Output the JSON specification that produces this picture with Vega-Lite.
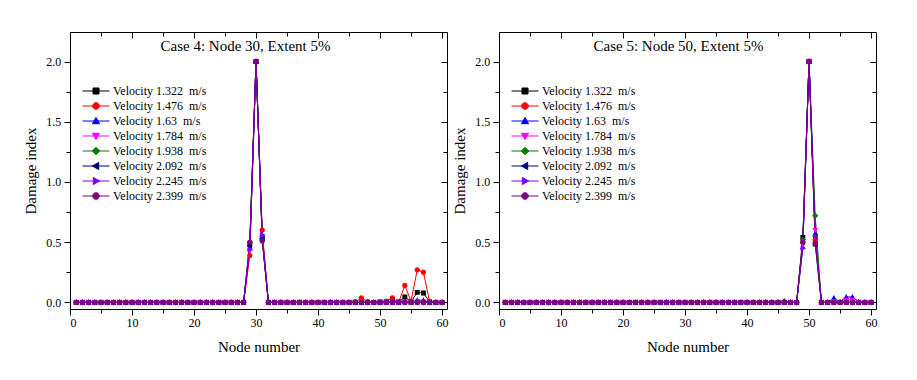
{
  "$schema": "https://vega.github.io/schema/vega-lite/v6.json",
  "background": "white",
  "padding": {"left": 23, "top": 31, "right": 5, "bottom": 5},
  "spacing": 52,
  "bounds": "flush",
  "config": {
    "view": {"stroke": null},
    "font": "Liberation Serif",
    "style": {"guide-label": {"font": "Liberation Serif"}, "guide-title": {"font": "Liberation Serif"}, "group-title": {"font": "Liberation Serif"}},
    "axis": {"labelFont": "Liberation Serif", "titleFont": "Liberation Serif"},
    "legend": {"labelFont": "Liberation Serif"},
    "title": {"font": "Liberation Serif", "fontSize": 15, "fontWeight": "normal", "color": "black"}
  },
  "resolve": {"legend": {"color": "independent", "shape": "independent"}},
  "hconcat": [
    {
      "width": 377, "height": 277,
      "title": {"text": "Case 4: Node 30, Extent 5%", "anchor": "middle", "frame": "group", "offset": -34, "baseline": "alphabetic", "dx": -13},
      "data": {"values": [
        {"node":1,"s1":0,"s2":0,"s3":0,"s4":0,"s5":0,"s6":0,"s7":0,"s8":0},
        {"node":2,"s1":0,"s2":0,"s3":0,"s4":0,"s5":0,"s6":0,"s7":0,"s8":0},
        {"node":3,"s1":0,"s2":0,"s3":0,"s4":0,"s5":0,"s6":0,"s7":0,"s8":0},
        {"node":4,"s1":0,"s2":0,"s3":0,"s4":0,"s5":0,"s6":0,"s7":0,"s8":0},
        {"node":5,"s1":0,"s2":0,"s3":0,"s4":0,"s5":0,"s6":0,"s7":0,"s8":0},
        {"node":6,"s1":0,"s2":0,"s3":0,"s4":0,"s5":0,"s6":0,"s7":0,"s8":0},
        {"node":7,"s1":0,"s2":0,"s3":0,"s4":0,"s5":0,"s6":0,"s7":0,"s8":0},
        {"node":8,"s1":0,"s2":0,"s3":0,"s4":0,"s5":0,"s6":0,"s7":0,"s8":0},
        {"node":9,"s1":0,"s2":0,"s3":0,"s4":0,"s5":0,"s6":0,"s7":0,"s8":0},
        {"node":10,"s1":0,"s2":0,"s3":0,"s4":0,"s5":0,"s6":0,"s7":0,"s8":0},
        {"node":11,"s1":0,"s2":0,"s3":0,"s4":0,"s5":0,"s6":0,"s7":0,"s8":0},
        {"node":12,"s1":0,"s2":0,"s3":0,"s4":0,"s5":0,"s6":0,"s7":0,"s8":0},
        {"node":13,"s1":0,"s2":0,"s3":0,"s4":0,"s5":0,"s6":0,"s7":0,"s8":0},
        {"node":14,"s1":0,"s2":0,"s3":0,"s4":0,"s5":0,"s6":0,"s7":0,"s8":0},
        {"node":15,"s1":0,"s2":0,"s3":0,"s4":0,"s5":0,"s6":0,"s7":0,"s8":0},
        {"node":16,"s1":0,"s2":0,"s3":0,"s4":0,"s5":0,"s6":0,"s7":0,"s8":0},
        {"node":17,"s1":0,"s2":0,"s3":0,"s4":0,"s5":0,"s6":0,"s7":0,"s8":0},
        {"node":18,"s1":0,"s2":0,"s3":0,"s4":0,"s5":0,"s6":0,"s7":0,"s8":0},
        {"node":19,"s1":0,"s2":0,"s3":0,"s4":0,"s5":0,"s6":0,"s7":0,"s8":0},
        {"node":20,"s1":0,"s2":0,"s3":0,"s4":0,"s5":0,"s6":0,"s7":0,"s8":0},
        {"node":21,"s1":0,"s2":0,"s3":0,"s4":0,"s5":0,"s6":0,"s7":0,"s8":0},
        {"node":22,"s1":0,"s2":0,"s3":0,"s4":0,"s5":0,"s6":0,"s7":0,"s8":0},
        {"node":23,"s1":0,"s2":0,"s3":0,"s4":0,"s5":0,"s6":0,"s7":0,"s8":0},
        {"node":24,"s1":0,"s2":0,"s3":0,"s4":0,"s5":0,"s6":0,"s7":0,"s8":0},
        {"node":25,"s1":0,"s2":0,"s3":0,"s4":0,"s5":0,"s6":0,"s7":0,"s8":0},
        {"node":26,"s1":0,"s2":0,"s3":0,"s4":0,"s5":0,"s6":0,"s7":0,"s8":0},
        {"node":27,"s1":0,"s2":0,"s3":0,"s4":0,"s5":0,"s6":0,"s7":0,"s8":0},
        {"node":28,"s1":0,"s2":0,"s3":0,"s4":0,"s5":0,"s6":0,"s7":0,"s8":0},
        {"node":29,"s1":0.48,"s2":0.39,"s3":0.45,"s4":0.43,"s5":0.50,"s6":0.47,"s7":0.44,"s8":0.50},
        {"node":30,"s1":2,"s2":2,"s3":2,"s4":2,"s5":2,"s6":2,"s7":2,"s8":2},
        {"node":31,"s1":0.53,"s2":0.60,"s3":0.56,"s4":0.55,"s5":0.52,"s6":0.53,"s7":0.56,"s8":0.51},
        {"node":32,"s1":0,"s2":0,"s3":0,"s4":0,"s5":0,"s6":0,"s7":0,"s8":0},
        {"node":33,"s1":0,"s2":0,"s3":0,"s4":0,"s5":0,"s6":0,"s7":0,"s8":0},
        {"node":34,"s1":0,"s2":0,"s3":0,"s4":0,"s5":0,"s6":0,"s7":0,"s8":0},
        {"node":35,"s1":0,"s2":0,"s3":0,"s4":0,"s5":0,"s6":0,"s7":0,"s8":0},
        {"node":36,"s1":0,"s2":0,"s3":0,"s4":0,"s5":0,"s6":0,"s7":0,"s8":0},
        {"node":37,"s1":0,"s2":0,"s3":0,"s4":0,"s5":0,"s6":0,"s7":0,"s8":0},
        {"node":38,"s1":0,"s2":0,"s3":0,"s4":0,"s5":0,"s6":0,"s7":0,"s8":0},
        {"node":39,"s1":0,"s2":0,"s3":0,"s4":0,"s5":0,"s6":0,"s7":0,"s8":0},
        {"node":40,"s1":0,"s2":0,"s3":0,"s4":0,"s5":0,"s6":0,"s7":0,"s8":0},
        {"node":41,"s1":0,"s2":0,"s3":0,"s4":0,"s5":0,"s6":0,"s7":0,"s8":0},
        {"node":42,"s1":0,"s2":0,"s3":0,"s4":0,"s5":0,"s6":0,"s7":0,"s8":0},
        {"node":43,"s1":0,"s2":0,"s3":0,"s4":0,"s5":0,"s6":0,"s7":0,"s8":0},
        {"node":44,"s1":0,"s2":0,"s3":0,"s4":0,"s5":0,"s6":0,"s7":0,"s8":0},
        {"node":45,"s1":0,"s2":0,"s3":0,"s4":0,"s5":0,"s6":0,"s7":0,"s8":0},
        {"node":46,"s1":0,"s2":0.005,"s3":0,"s4":0,"s5":0,"s6":0,"s7":0,"s8":0},
        {"node":47,"s1":0,"s2":0.036,"s3":0,"s4":0,"s5":0,"s6":0,"s7":0,"s8":0},
        {"node":48,"s1":0,"s2":0.005,"s3":0,"s4":0,"s5":0,"s6":0,"s7":0,"s8":0},
        {"node":49,"s1":0,"s2":0,"s3":0,"s4":0,"s5":0,"s6":0,"s7":0,"s8":0},
        {"node":50,"s1":0.003,"s2":0.003,"s3":0,"s4":0,"s5":0,"s6":0,"s7":0,"s8":0},
        {"node":51,"s1":0.005,"s2":0.01,"s3":0,"s4":0,"s5":0,"s6":0,"s7":0,"s8":0},
        {"node":52,"s1":0.005,"s2":0.036,"s3":0,"s4":0,"s5":0,"s6":0,"s7":0,"s8":0},
        {"node":53,"s1":0.003,"s2":0,"s3":0,"s4":0,"s5":0,"s6":0,"s7":0,"s8":0},
        {"node":54,"s1":0.045,"s2":0.14,"s3":0.01,"s4":0,"s5":0,"s6":0,"s7":0,"s8":0},
        {"node":55,"s1":0.005,"s2":0.01,"s3":0,"s4":0,"s5":0,"s6":0,"s7":0,"s8":0},
        {"node":56,"s1":0.083,"s2":0.27,"s3":0.018,"s4":0.005,"s5":0,"s6":0,"s7":0,"s8":0},
        {"node":57,"s1":0.078,"s2":0.25,"s3":0.018,"s4":0,"s5":0,"s6":0,"s7":0,"s8":0},
        {"node":58,"s1":0.003,"s2":0.005,"s3":0,"s4":0,"s5":0,"s6":0,"s7":0,"s8":0},
        {"node":59,"s1":0,"s2":0,"s3":0,"s4":0,"s5":0,"s6":0,"s7":0,"s8":0},
        {"node":60,"s1":0,"s2":0,"s3":0,"s4":0,"s5":0,"s6":0,"s7":0,"s8":0}
      ]},
      "transform": [{"fold": ["s1","s2","s3","s4","s5","s6","s7","s8"], "as": ["series","value"]}],
      "resolve": {"axis": {"x": "independent", "y": "independent"}},
      "layer": [
        {
          "mark": {"type": "line", "strokeWidth": 1},
          "encoding": {
            "x": {"field": "node", "type": "quantitative", "scale": {"domain": [0, 60.8], "nice": false, "zero": false},
              "axis": {"orient": "bottom", "title": "Node number", "values": [0,5,10,15,20,25,30,35,40,45,50,55,60], "labelExpr": "datum.value % 10 === 0 ? datum.label : ''", "tickSize": {"condition": {"test": "datum.value % 10 === 0", "value": 6}, "value": 4}, "labelPadding": 2.5, "titlePadding": 8.5, "minExtent": 22, "maxExtent": 22, "grid": false, "domainColor": "black", "tickColor": "black", "domainWidth": 1, "tickWidth": 1, "labelFont": "Liberation Serif", "labelFontSize": 12, "labelColor": "black", "titleFont": "Liberation Serif", "titleFontSize": 15, "titleFontWeight": "normal", "titleColor": "black"}},
            "y": {"field": "value", "type": "quantitative", "scale": {"domain": [-0.055, 2.245], "nice": false, "zero": false},
              "axis": {"orient": "left", "title": "Damage index", "values": [0,0.25,0.5,0.75,1,1.25,1.5,1.75,2], "format": ".1f", "labelExpr": "round(datum.value*4) % 2 === 0 ? datum.label : ''", "tickSize": {"condition": {"test": "round(datum.value*4) % 2 === 0", "value": 6}, "value": 4}, "labelPadding": 3.3, "titlePadding": 7, "minExtent": 25, "maxExtent": 25, "grid": false, "domainColor": "black", "tickColor": "black", "domainWidth": 1, "tickWidth": 1, "labelFont": "Liberation Serif", "labelFontSize": 12, "labelColor": "black", "titleFont": "Liberation Serif", "titleFontSize": 15, "titleFontWeight": "normal", "titleColor": "black"}},
            "color": {"field": "series", "type": "nominal", "scale": {"domain": ["s1","s2","s3","s4","s5","s6","s7","s8"], "range": ["#000000","#FF0000","#0000FF","#FF00FF","#008000","#000080","#8000FF","#800080"]},
              "legend": {"orient": "none", "legendX": 10, "legendY": 53, "title": null, "padding": 0, "symbolSize": 36, "symbolOffset": 10, "labelOffset": 11, "rowPadding": 3, "labelFont": "Liberation Serif", "labelFontSize": 12, "labelColor": "black", "symbolStrokeWidth": 1,
                "labelExpr": "['Velocity 1.322\u00a0 m/s','Velocity 1.476\u00a0 m/s','Velocity 1.63\u00a0 m/s','Velocity 1.784\u00a0 m/s','Velocity 1.938\u00a0 m/s','Velocity 2.092\u00a0 m/s','Velocity 2.245\u00a0 m/s','Velocity 2.399\u00a0 m/s'][indexof(['s1','s2','s3','s4','s5','s6','s7','s8'], datum.label)]",
                "encode": {"symbols": {"update": {"stroke": {"scale": "color", "field": "value"}, "fill": {"scale": "color", "field": "value"}}}, "labels": {"update": {"font": {"value": "Liberation Serif"}}}}}}
          }
        },
        {
          "mark": {"type": "point", "filled": true, "size": 24, "opacity": 1},
          "encoding": {
            "x": {"field": "node", "type": "quantitative",
              "axis": {"orient": "top", "title": null, "labels": false, "values": [0,5,10,15,20,25,30,35,40,45,50,55,60], "tickSize": {"condition": {"test": "datum.value % 10 === 0", "value": -6}, "value": -4}, "minExtent": 0, "maxExtent": 0, "grid": false, "domainColor": "black", "tickColor": "black", "domainWidth": 1, "tickWidth": 1}},
            "y": {"field": "value", "type": "quantitative",
              "axis": {"orient": "right", "title": null, "labels": false, "values": [0,0.25,0.5,0.75,1,1.25,1.5,1.75,2], "tickSize": {"condition": {"test": "round(datum.value*4) % 2 === 0", "value": -6}, "value": -4}, "minExtent": 0, "maxExtent": 0, "grid": false, "domainColor": "black", "tickColor": "black", "domainWidth": 1, "tickWidth": 1}},
            "color": {"field": "series", "type": "nominal", "scale": {"domain": ["s1","s2","s3","s4","s5","s6","s7","s8"], "range": ["#000000","#FF0000","#0000FF","#FF00FF","#008000","#000080","#8000FF","#800080"]},
              "legend": {"orient": "none", "legendX": 10, "legendY": 53, "title": null, "padding": 0, "symbolSize": 36, "symbolOffset": 10, "labelOffset": 11, "rowPadding": 3, "labelFont": "Liberation Serif", "labelFontSize": 12, "labelColor": "black", "symbolStrokeWidth": 1,
                "labelExpr": "['Velocity 1.322\u00a0 m/s','Velocity 1.476\u00a0 m/s','Velocity 1.63\u00a0 m/s','Velocity 1.784\u00a0 m/s','Velocity 1.938\u00a0 m/s','Velocity 2.092\u00a0 m/s','Velocity 2.245\u00a0 m/s','Velocity 2.399\u00a0 m/s'][indexof(['s1','s2','s3','s4','s5','s6','s7','s8'], datum.label)]",
                "encode": {"symbols": {"update": {"stroke": {"scale": "color", "field": "value"}, "fill": {"scale": "color", "field": "value"}}}, "labels": {"update": {"font": {"value": "Liberation Serif"}}}}}},
            "shape": {"field": "series", "type": "nominal", "scale": {"domain": ["s1","s2","s3","s4","s5","s6","s7","s8"], "range": [
                "M-4.5,0H4.5M-1,-1H1V1H-1Z",
                "M-4.5,0H4.5M-1.1,0A1.1,1.1,0,1,1,1.1,0A1.1,1.1,0,1,1,-1.1,0Z",
                "M-4.5,0H4.5M0,-1.2L1.2,0.9H-1.2Z",
                "M-4.5,0H4.5M0,1.2L1.2,-0.9H-1.2Z",
                "M-4.5,0H4.5M0,-1.25L1.25,0L0,1.25L-1.25,0Z",
                "M-4.5,0H4.5M-1.2,0L0.9,-1.2V1.2Z",
                "M-4.5,0H4.5M1.2,0L-0.9,-1.2V1.2Z",
                "M-4.5,0H4.5M-1.1,0A1.1,1.1,0,1,1,1.1,0A1.1,1.1,0,1,1,-1.1,0Z"]},
              "legend": {"orient": "none", "legendX": 10, "legendY": 53, "title": null, "padding": 0, "symbolSize": 36, "symbolOffset": 10, "labelOffset": 11, "rowPadding": 3, "labelFont": "Liberation Serif", "labelFontSize": 12, "labelColor": "black", "symbolStrokeWidth": 1,
                "labelExpr": "['Velocity 1.322\u00a0 m/s','Velocity 1.476\u00a0 m/s','Velocity 1.63\u00a0 m/s','Velocity 1.784\u00a0 m/s','Velocity 1.938\u00a0 m/s','Velocity 2.092\u00a0 m/s','Velocity 2.245\u00a0 m/s','Velocity 2.399\u00a0 m/s'][indexof(['s1','s2','s3','s4','s5','s6','s7','s8'], datum.label)]",
                "encode": {"symbols": {"update": {"stroke": {"scale": "color", "field": "value"}, "fill": {"scale": "color", "field": "value"}}}, "labels": {"update": {"font": {"value": "Liberation Serif"}}}}}}
          }
        }
      ]
    },
    {
      "width": 377, "height": 277,
      "title": {"text": "Case 5: Node 50, Extent 5%", "anchor": "middle", "frame": "group", "offset": -34, "baseline": "alphabetic", "dx": -9},
      "data": {"values": [
        {"node":1,"s1":0,"s2":0,"s3":0,"s4":0,"s5":0,"s6":0,"s7":0,"s8":0},
        {"node":2,"s1":0,"s2":0,"s3":0,"s4":0,"s5":0,"s6":0,"s7":0,"s8":0},
        {"node":3,"s1":0,"s2":0,"s3":0,"s4":0,"s5":0,"s6":0,"s7":0,"s8":0},
        {"node":4,"s1":0,"s2":0,"s3":0,"s4":0,"s5":0,"s6":0,"s7":0,"s8":0},
        {"node":5,"s1":0,"s2":0,"s3":0,"s4":0,"s5":0,"s6":0,"s7":0,"s8":0},
        {"node":6,"s1":0,"s2":0,"s3":0,"s4":0,"s5":0,"s6":0,"s7":0,"s8":0},
        {"node":7,"s1":0,"s2":0,"s3":0,"s4":0,"s5":0,"s6":0,"s7":0,"s8":0},
        {"node":8,"s1":0,"s2":0,"s3":0,"s4":0,"s5":0,"s6":0,"s7":0,"s8":0},
        {"node":9,"s1":0,"s2":0,"s3":0,"s4":0,"s5":0,"s6":0,"s7":0,"s8":0},
        {"node":10,"s1":0,"s2":0,"s3":0,"s4":0,"s5":0,"s6":0,"s7":0,"s8":0},
        {"node":11,"s1":0,"s2":0,"s3":0,"s4":0,"s5":0,"s6":0,"s7":0,"s8":0},
        {"node":12,"s1":0,"s2":0,"s3":0,"s4":0,"s5":0,"s6":0,"s7":0,"s8":0},
        {"node":13,"s1":0,"s2":0,"s3":0,"s4":0,"s5":0,"s6":0,"s7":0,"s8":0},
        {"node":14,"s1":0,"s2":0,"s3":0,"s4":0,"s5":0,"s6":0,"s7":0,"s8":0},
        {"node":15,"s1":0,"s2":0,"s3":0,"s4":0,"s5":0,"s6":0,"s7":0,"s8":0},
        {"node":16,"s1":0,"s2":0,"s3":0,"s4":0,"s5":0,"s6":0,"s7":0,"s8":0},
        {"node":17,"s1":0,"s2":0,"s3":0,"s4":0,"s5":0,"s6":0,"s7":0,"s8":0},
        {"node":18,"s1":0,"s2":0,"s3":0,"s4":0,"s5":0,"s6":0,"s7":0,"s8":0},
        {"node":19,"s1":0,"s2":0,"s3":0,"s4":0,"s5":0,"s6":0,"s7":0,"s8":0},
        {"node":20,"s1":0,"s2":0,"s3":0,"s4":0,"s5":0,"s6":0,"s7":0,"s8":0},
        {"node":21,"s1":0,"s2":0,"s3":0,"s4":0,"s5":0,"s6":0,"s7":0,"s8":0},
        {"node":22,"s1":0,"s2":0,"s3":0,"s4":0,"s5":0,"s6":0,"s7":0,"s8":0},
        {"node":23,"s1":0,"s2":0,"s3":0,"s4":0,"s5":0,"s6":0,"s7":0,"s8":0},
        {"node":24,"s1":0,"s2":0,"s3":0,"s4":0,"s5":0,"s6":0,"s7":0,"s8":0},
        {"node":25,"s1":0,"s2":0,"s3":0,"s4":0,"s5":0,"s6":0,"s7":0,"s8":0},
        {"node":26,"s1":0,"s2":0,"s3":0,"s4":0,"s5":0,"s6":0,"s7":0,"s8":0},
        {"node":27,"s1":0,"s2":0,"s3":0,"s4":0,"s5":0,"s6":0,"s7":0,"s8":0},
        {"node":28,"s1":0,"s2":0,"s3":0,"s4":0,"s5":0,"s6":0,"s7":0,"s8":0},
        {"node":29,"s1":0,"s2":0,"s3":0,"s4":0,"s5":0,"s6":0,"s7":0,"s8":0},
        {"node":30,"s1":0,"s2":0,"s3":0,"s4":0,"s5":0,"s6":0,"s7":0,"s8":0},
        {"node":31,"s1":0,"s2":0,"s3":0,"s4":0,"s5":0,"s6":0,"s7":0,"s8":0},
        {"node":32,"s1":0,"s2":0,"s3":0,"s4":0,"s5":0,"s6":0,"s7":0,"s8":0},
        {"node":33,"s1":0,"s2":0,"s3":0,"s4":0,"s5":0,"s6":0,"s7":0,"s8":0},
        {"node":34,"s1":0,"s2":0,"s3":0,"s4":0,"s5":0,"s6":0,"s7":0,"s8":0},
        {"node":35,"s1":0,"s2":0,"s3":0,"s4":0,"s5":0,"s6":0,"s7":0,"s8":0},
        {"node":36,"s1":0,"s2":0,"s3":0,"s4":0,"s5":0,"s6":0,"s7":0,"s8":0},
        {"node":37,"s1":0,"s2":0,"s3":0,"s4":0,"s5":0,"s6":0,"s7":0,"s8":0},
        {"node":38,"s1":0,"s2":0,"s3":0,"s4":0,"s5":0,"s6":0,"s7":0,"s8":0},
        {"node":39,"s1":0,"s2":0,"s3":0,"s4":0,"s5":0,"s6":0,"s7":0,"s8":0},
        {"node":40,"s1":0,"s2":0,"s3":0,"s4":0,"s5":0,"s6":0,"s7":0,"s8":0},
        {"node":41,"s1":0,"s2":0,"s3":0,"s4":0,"s5":0,"s6":0,"s7":0,"s8":0},
        {"node":42,"s1":0,"s2":0,"s3":0,"s4":0,"s5":0,"s6":0,"s7":0,"s8":0},
        {"node":43,"s1":0,"s2":0,"s3":0,"s4":0,"s5":0,"s6":0,"s7":0,"s8":0},
        {"node":44,"s1":0,"s2":0,"s3":0,"s4":0,"s5":0,"s6":0,"s7":0,"s8":0},
        {"node":45,"s1":0,"s2":0,"s3":0,"s4":0,"s5":0,"s6":0,"s7":0,"s8":0},
        {"node":46,"s1":0,"s2":0,"s3":0,"s4":0,"s5":0.01,"s6":0,"s7":0,"s8":0},
        {"node":47,"s1":0,"s2":0,"s3":0,"s4":0,"s5":0,"s6":0,"s7":0,"s8":0},
        {"node":48,"s1":0,"s2":0,"s3":0,"s4":0,"s5":0,"s6":0,"s7":0,"s8":0},
        {"node":49,"s1":0.54,"s2":0.50,"s3":0.46,"s4":0.48,"s5":0.52,"s6":0.50,"s7":0.45,"s8":0.50},
        {"node":50,"s1":2,"s2":2,"s3":2,"s4":2,"s5":2,"s6":2,"s7":2,"s8":2},
        {"node":51,"s1":0.485,"s2":0.52,"s3":0.57,"s4":0.60,"s5":0.72,"s6":0.55,"s7":0.55,"s8":0.49},
        {"node":52,"s1":0,"s2":0,"s3":0,"s4":0,"s5":0,"s6":0,"s7":0,"s8":0},
        {"node":53,"s1":0,"s2":0,"s3":0,"s4":0,"s5":0,"s6":0,"s7":0,"s8":0},
        {"node":54,"s1":0,"s2":0,"s3":0.036,"s4":0.01,"s5":0,"s6":0,"s7":0,"s8":0},
        {"node":55,"s1":0,"s2":0,"s3":0.005,"s4":0,"s5":0,"s6":0,"s7":0,"s8":0},
        {"node":56,"s1":0,"s2":0,"s3":0.045,"s4":0.02,"s5":0,"s6":0,"s7":0,"s8":0},
        {"node":57,"s1":0,"s2":0,"s3":0.045,"s4":0.02,"s5":0,"s6":0,"s7":0,"s8":0},
        {"node":58,"s1":0,"s2":0,"s3":0.005,"s4":0,"s5":0,"s6":0,"s7":0,"s8":0},
        {"node":59,"s1":0,"s2":0,"s3":0,"s4":0,"s5":0,"s6":0,"s7":0,"s8":0},
        {"node":60,"s1":0,"s2":0,"s3":0,"s4":0,"s5":0,"s6":0,"s7":0,"s8":0}
      ]},
      "transform": [{"fold": ["s1","s2","s3","s4","s5","s6","s7","s8"], "as": ["series","value"]}],
      "resolve": {"axis": {"x": "independent", "y": "independent"}},
      "layer": [
        {
          "mark": {"type": "line", "strokeWidth": 1},
          "encoding": {
            "x": {"field": "node", "type": "quantitative", "scale": {"domain": [0, 60.8], "nice": false, "zero": false},
              "axis": {"orient": "bottom", "title": "Node number", "values": [0,5,10,15,20,25,30,35,40,45,50,55,60], "labelExpr": "datum.value % 10 === 0 ? datum.label : ''", "tickSize": {"condition": {"test": "datum.value % 10 === 0", "value": 6}, "value": 4}, "labelPadding": 2.5, "titlePadding": 8.5, "minExtent": 22, "maxExtent": 22, "grid": false, "domainColor": "black", "tickColor": "black", "domainWidth": 1, "tickWidth": 1, "labelFont": "Liberation Serif", "labelFontSize": 12, "labelColor": "black", "titleFont": "Liberation Serif", "titleFontSize": 15, "titleFontWeight": "normal", "titleColor": "black"}},
            "y": {"field": "value", "type": "quantitative", "scale": {"domain": [-0.055, 2.245], "nice": false, "zero": false},
              "axis": {"orient": "left", "title": "Damage index", "values": [0,0.25,0.5,0.75,1,1.25,1.5,1.75,2], "format": ".1f", "labelExpr": "round(datum.value*4) % 2 === 0 ? datum.label : ''", "tickSize": {"condition": {"test": "round(datum.value*4) % 2 === 0", "value": 6}, "value": 4}, "labelPadding": 3.3, "titlePadding": 7, "minExtent": 25, "maxExtent": 25, "grid": false, "domainColor": "black", "tickColor": "black", "domainWidth": 1, "tickWidth": 1, "labelFont": "Liberation Serif", "labelFontSize": 12, "labelColor": "black", "titleFont": "Liberation Serif", "titleFontSize": 15, "titleFontWeight": "normal", "titleColor": "black"}},
            "color": {"field": "series", "type": "nominal", "scale": {"domain": ["s1","s2","s3","s4","s5","s6","s7","s8"], "range": ["#000000","#FF0000","#0000FF","#FF00FF","#008000","#000080","#8000FF","#800080"]},
              "legend": {"orient": "none", "legendX": 10, "legendY": 53, "title": null, "padding": 0, "symbolSize": 36, "symbolOffset": 10, "labelOffset": 11, "rowPadding": 3, "labelFont": "Liberation Serif", "labelFontSize": 12, "labelColor": "black", "symbolStrokeWidth": 1,
                "labelExpr": "['Velocity 1.322\u00a0 m/s','Velocity 1.476\u00a0 m/s','Velocity 1.63\u00a0 m/s','Velocity 1.784\u00a0 m/s','Velocity 1.938\u00a0 m/s','Velocity 2.092\u00a0 m/s','Velocity 2.245\u00a0 m/s','Velocity 2.399\u00a0 m/s'][indexof(['s1','s2','s3','s4','s5','s6','s7','s8'], datum.label)]",
                "encode": {"symbols": {"update": {"stroke": {"scale": "color", "field": "value"}, "fill": {"scale": "color", "field": "value"}}}, "labels": {"update": {"font": {"value": "Liberation Serif"}}}}}}
          }
        },
        {
          "mark": {"type": "point", "filled": true, "size": 24, "opacity": 1},
          "encoding": {
            "x": {"field": "node", "type": "quantitative",
              "axis": {"orient": "top", "title": null, "labels": false, "values": [0,5,10,15,20,25,30,35,40,45,50,55,60], "tickSize": {"condition": {"test": "datum.value % 10 === 0", "value": -6}, "value": -4}, "minExtent": 0, "maxExtent": 0, "grid": false, "domainColor": "black", "tickColor": "black", "domainWidth": 1, "tickWidth": 1}},
            "y": {"field": "value", "type": "quantitative",
              "axis": {"orient": "right", "title": null, "labels": false, "values": [0,0.25,0.5,0.75,1,1.25,1.5,1.75,2], "tickSize": {"condition": {"test": "round(datum.value*4) % 2 === 0", "value": -6}, "value": -4}, "minExtent": 0, "maxExtent": 0, "grid": false, "domainColor": "black", "tickColor": "black", "domainWidth": 1, "tickWidth": 1}},
            "color": {"field": "series", "type": "nominal", "scale": {"domain": ["s1","s2","s3","s4","s5","s6","s7","s8"], "range": ["#000000","#FF0000","#0000FF","#FF00FF","#008000","#000080","#8000FF","#800080"]},
              "legend": {"orient": "none", "legendX": 10, "legendY": 53, "title": null, "padding": 0, "symbolSize": 36, "symbolOffset": 10, "labelOffset": 11, "rowPadding": 3, "labelFont": "Liberation Serif", "labelFontSize": 12, "labelColor": "black", "symbolStrokeWidth": 1,
                "labelExpr": "['Velocity 1.322\u00a0 m/s','Velocity 1.476\u00a0 m/s','Velocity 1.63\u00a0 m/s','Velocity 1.784\u00a0 m/s','Velocity 1.938\u00a0 m/s','Velocity 2.092\u00a0 m/s','Velocity 2.245\u00a0 m/s','Velocity 2.399\u00a0 m/s'][indexof(['s1','s2','s3','s4','s5','s6','s7','s8'], datum.label)]",
                "encode": {"symbols": {"update": {"stroke": {"scale": "color", "field": "value"}, "fill": {"scale": "color", "field": "value"}}}, "labels": {"update": {"font": {"value": "Liberation Serif"}}}}}},
            "shape": {"field": "series", "type": "nominal", "scale": {"domain": ["s1","s2","s3","s4","s5","s6","s7","s8"], "range": [
                "M-4.5,0H4.5M-1,-1H1V1H-1Z",
                "M-4.5,0H4.5M-1.1,0A1.1,1.1,0,1,1,1.1,0A1.1,1.1,0,1,1,-1.1,0Z",
                "M-4.5,0H4.5M0,-1.2L1.2,0.9H-1.2Z",
                "M-4.5,0H4.5M0,1.2L1.2,-0.9H-1.2Z",
                "M-4.5,0H4.5M0,-1.25L1.25,0L0,1.25L-1.25,0Z",
                "M-4.5,0H4.5M-1.2,0L0.9,-1.2V1.2Z",
                "M-4.5,0H4.5M1.2,0L-0.9,-1.2V1.2Z",
                "M-4.5,0H4.5M-1.1,0A1.1,1.1,0,1,1,1.1,0A1.1,1.1,0,1,1,-1.1,0Z"]},
              "legend": {"orient": "none", "legendX": 10, "legendY": 53, "title": null, "padding": 0, "symbolSize": 36, "symbolOffset": 10, "labelOffset": 11, "rowPadding": 3, "labelFont": "Liberation Serif", "labelFontSize": 12, "labelColor": "black", "symbolStrokeWidth": 1,
                "labelExpr": "['Velocity 1.322\u00a0 m/s','Velocity 1.476\u00a0 m/s','Velocity 1.63\u00a0 m/s','Velocity 1.784\u00a0 m/s','Velocity 1.938\u00a0 m/s','Velocity 2.092\u00a0 m/s','Velocity 2.245\u00a0 m/s','Velocity 2.399\u00a0 m/s'][indexof(['s1','s2','s3','s4','s5','s6','s7','s8'], datum.label)]",
                "encode": {"symbols": {"update": {"stroke": {"scale": "color", "field": "value"}, "fill": {"scale": "color", "field": "value"}}}, "labels": {"update": {"font": {"value": "Liberation Serif"}}}}}}
          }
        }
      ]
    }
  ]
}
